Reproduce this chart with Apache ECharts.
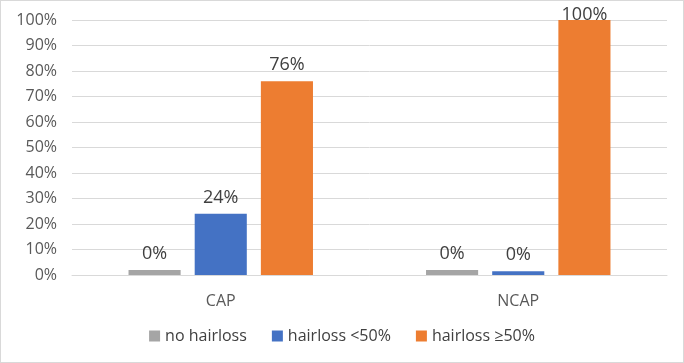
<!DOCTYPE html>
<html>
<head>
<meta charset="utf-8">
<script src="https://cdn.jsdelivr.net/npm/echarts@6/dist/echarts.min.js"></script>
<style>
html, body { margin: 0; padding: 0; background: #fff; }
#chart { width: 682px; height: 361px; border: 1px solid #d9d9d9; }
</style>
</head>
<body>
<div id="chart"></div>
<script>
// categories and series
var categories = ['CAP', 'NCAP'];
var seriesNames = ['no hairloss', 'hairloss <50%', 'hairloss \u226550%'];
// bar heights as drawn (%), the zero groups are drawn as thin stubs
var noHairloss = [2, 2];
var hairlossLow = [24, 1.5];
var hairlossHigh = [76, 100];
// labels printed above the bars
var noHairlossLabels = ['0%', '0%'];
var hairlossLowLabels = ['24%', '0%'];
var hairlossHighLabels = ['76%', '100%'];
var yTicks = [0, 10, 20, 30, 40, 50, 60, 70, 80, 90, 100];

var colors = ['#a5a5a5', '#4472c4', '#ed7d31'];
var font = '"Open Sans", "Noto Sans", sans-serif';

function makeSeries(i, data, labels) {
	var items = data.map(function (v) {
		// label of a full bar is pushed down so it stays inside the chart
		if (v >= 100) return { value: v, label: { distance: -4 } };
		return v;
	});
	return {
		name: seriesNames[i],
		type: 'bar',
		data: items,
		barGap: '27%',
		barCategoryGap: '38%',
		itemStyle: { color: colors[i] },
		label: {
			show: true,
			position: 'top',
			distance: 7,
			color: '#404040',
			fontSize: 18,
			fontFamily: font,
			formatter: function (p) { return labels[p.dataIndex]; }
		}
	};
}

var myChart = echarts.init(document.getElementById('chart'));
var option = {
	animation: false,
	textStyle: { fontFamily: font },
	grid: { left: 71, right: 16, top: 19, bottom: 87 },
	legend: {
		bottom: 13,
		left: 'center',
		itemWidth: 11,
		itemHeight: 11,
		itemGap: 25,
		icon: 'rect',
		textStyle: { color: '#404040', fontSize: 16, fontFamily: font },
		data: seriesNames
	},
	xAxis: {
		type: 'category',
		data: categories,
		axisTick: { show: false },
		axisLine: { lineStyle: { color: '#d9d9d9' } },
		axisLabel: { color: '#595959', fontSize: 16, margin: 18, fontFamily: font }
	},
	yAxis: {
		type: 'value',
		min: yTicks[0],
		max: yTicks[yTicks.length - 1],
		interval: 10,
		axisLine: { show: false },
		axisTick: { show: false },
		splitLine: { lineStyle: { color: '#d9d9d9' } },
		axisLabel: { color: '#595959', fontSize: 16, margin: 15, fontFamily: font, formatter: '{value}%' }
	},
	series: [
		makeSeries(0, noHairloss, noHairlossLabels),
		makeSeries(1, hairlossLow, hairlossLowLabels),
		makeSeries(2, hairlossHigh, hairlossHighLabels)
	]
};
myChart.setOption(option);
</script>
</body>
</html>
